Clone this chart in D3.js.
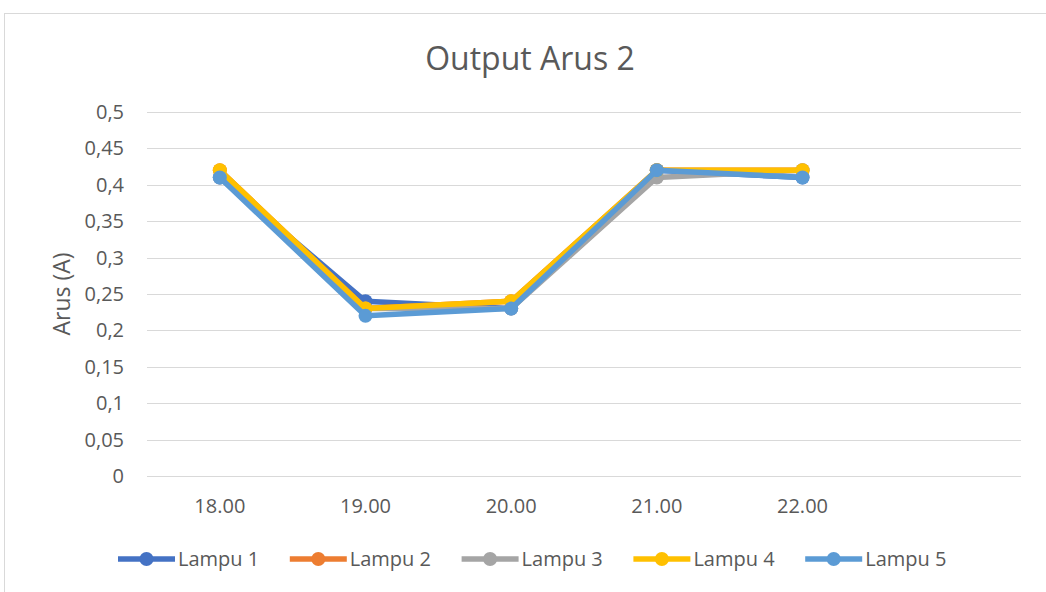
<!DOCTYPE html>
<html>
<head>
<meta charset="utf-8">
<script src="https://cdn.jsdelivr.net/npm/d3@7"></script>
<style>
  body { margin: 0; background: #fff; }
  text { font-family: "Open Sans", "Noto Sans", sans-serif; fill: #595959; }
</style>
</head>
<body>
<script>
var categories = ["18.00", "19.00", "20.00", "21.00", "22.00", ""];
var yTicks = [0, 0.05, 0.1, 0.15, 0.2, 0.25, 0.3, 0.35, 0.4, 0.45, 0.5];
var seriesNames = ["Lampu 1", "Lampu 2", "Lampu 3", "Lampu 4", "Lampu 5"];
var seriesColors = ["#4472C4", "#ED7D31", "#A5A5A5", "#FFC000", "#5B9BD5"];
var lampu1 = [0.41, 0.24, 0.23, 0.42, 0.41];
var lampu2 = [0.42, 0.23, 0.24, 0.42, 0.42];
var lampu3 = [0.41, 0.23, 0.23, 0.41, 0.42];
var lampu4 = [0.42, 0.23, 0.24, 0.42, 0.42];
var lampu5 = [0.41, 0.22, 0.23, 0.42, 0.41];
var seriesValues = [lampu1, lampu2, lampu3, lampu4, lampu5];

var W = 1046, H = 592;
var margin = {top: 112, right: 25, bottom: 116, left: 147};
var width = W - margin.left - margin.right;
var height = H - margin.top - margin.bottom;

var svg = d3.select("body").append("svg")
    .attr("width", W)
    .attr("height", H);

// chart border
svg.append("rect")
    .attr("x", 4.5).attr("y", 13.5)
    .attr("width", W + 10).attr("height", H + 10)
    .attr("fill", "none").attr("stroke", "#d9d9d9");

svg.append("text")
    .attr("x", 530).attr("y", 70)
    .attr("text-anchor", "middle")
    .attr("font-size", "32px")
    .text("Output Arus 2");

var g = svg.append("g")
    .attr("transform", "translate(" + margin.left + "," + margin.top + ")");

var xScale = d3.scaleBand().domain(categories).range([0, width]);
var yScale = d3.scaleLinear().domain([0, 0.5]).range([height, 0]);
var fmt = d => String(+d.toFixed(2)).replace(".", ",");

// gridlines
g.selectAll(".grid").data(yTicks).enter().append("line")
    .attr("x1", 0).attr("x2", width)
    .attr("y1", d => Math.round(yScale(d)) + 0.5)
    .attr("y2", d => Math.round(yScale(d)) + 0.5)
    .attr("stroke", "#d9d9d9").attr("stroke-width", 1);

var yAxis = d3.axisLeft(yScale).tickValues(yTicks).tickFormat(fmt).tickSize(0).tickPadding(23);
g.append("g").call(yAxis)
    .call(a => a.select(".domain").remove())
    .selectAll("text").attr("font-size", "20px").attr("fill", "#595959");

var xAxis = d3.axisBottom(xScale).tickSize(0).tickPadding(23);
g.append("g").attr("transform", "translate(0," + height + ")").call(xAxis)
    .call(a => a.select(".domain").remove())
    .selectAll("text").attr("font-size", "20px").attr("fill", "#595959");

svg.append("text")
    .attr("transform", "rotate(-90)")
    .attr("x", -(margin.top + height / 2)).attr("y", 70)
    .attr("text-anchor", "middle")
    .attr("font-size", "23px")
    .text("Arus (A)");

var cx = i => xScale(categories[i]) + xScale.bandwidth() / 2;
var line = d3.line().x((d, i) => cx(i)).y(d => yScale(d));

seriesValues.forEach((vals, s) => {
    g.append("path").datum(vals)
        .attr("d", line)
        .attr("fill", "none")
        .attr("stroke", seriesColors[s])
        .attr("stroke-width", 5.5)
        .attr("stroke-linejoin", "round");
    g.selectAll(".m" + s).data(vals).enter().append("circle")
        .attr("cx", (d, i) => cx(i))
        .attr("cy", d => yScale(d))
        .attr("r", 7)
        .attr("fill", seriesColors[s]);
});

// legend
var legend = svg.append("g").attr("transform", "translate(118,559)");
seriesNames.forEach((name, i) => {
    var item = legend.append("g").attr("transform", "translate(" + (i * 171.8) + ",0)");
    item.append("line").attr("x1", 0).attr("x2", 57).attr("y1", 0).attr("y2", 0)
        .attr("stroke", seriesColors[i]).attr("stroke-width", 5.5);
    item.append("circle").attr("cx", 28.5).attr("cy", 0).attr("r", 7).attr("fill", seriesColors[i]);
    item.append("text").attr("x", 60).attr("y", 0).attr("dy", "0.35em")
        .attr("font-size", "20px").text(name);
});
</script>
</body>
</html>
